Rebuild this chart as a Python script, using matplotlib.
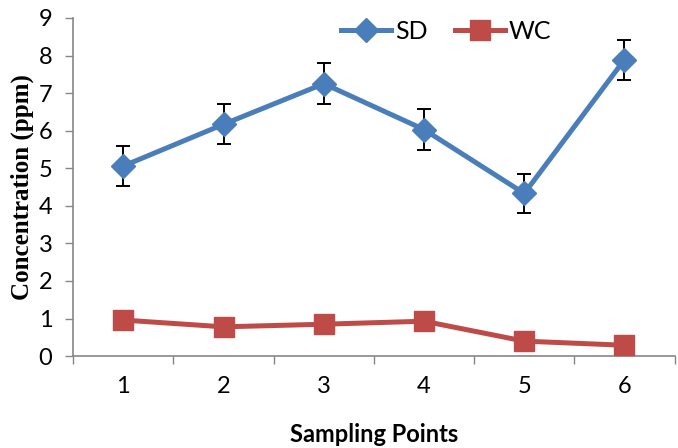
import matplotlib.pyplot as plt

# data
points = [1, 2, 3, 4, 5, 6]
sd = [5.06, 6.17, 7.25, 6.03, 4.33, 7.89]
sd_err = [0.53, 0.53, 0.54, 0.54, 0.52, 0.53]
wc = [0.96, 0.78, 0.85, 0.93, 0.40, 0.29]

blue = '#4A7EBB'
red = '#BE4B48'
grey = '#868686'

fig = plt.figure(figsize=(6.78, 4.48), dpi=100)
ax = fig.add_axes([0.108, 0.205, 0.887, 0.755])

ax.errorbar(points, sd, yerr=sd_err, fmt='none', ecolor='black', elinewidth=1.4, capsize=5, capthick=1.4, zorder=2)
ax.plot(points, sd, color=blue, lw=3.6, marker='D', markersize=12.5, label='SD', zorder=3)
ax.plot(points, wc, color=red, lw=3.6, marker='s', markersize=14.5, label='WC', zorder=3)

ax.set_xlim(0.5, 6.5)
ax.set_ylim(0, 9)

# category axis: ticks between categories, labels at centers
ax.set_xticks([x + 0.5 for x in [0] + points])
ax.set_xticklabels([])
ax.set_xticks(points, minor=True)
ax.set_xticklabels([str(p) for p in points], minor=True, fontsize=17, family='Lato')
ax.tick_params(axis='x', which='major', direction='out', length=6, color=grey, width=1)
ax.tick_params(axis='x', which='minor', length=0, pad=14)
ax.set_yticks(range(10))
ax.set_yticklabels([str(v) for v in range(10)], fontsize=17, family='Lato')
ax.tick_params(axis='y', direction='out', length=6, color=grey, width=1, pad=9)

for s in ['top', 'right']:
    ax.spines[s].set_visible(False)
for s in ['left', 'bottom']:
    ax.spines[s].set_color(grey)
    ax.spines[s].set_linewidth(1.2)

ax.set_ylabel('Concentration (ppm)', fontsize=18, fontweight='bold', family='Liberation Serif', labelpad=3)
ax.set_xlabel('Sampling Points', fontsize=17, fontweight='bold', family='Lato', labelpad=19)

ax.legend(loc='upper center', bbox_to_anchor=(0.62, 1.06), ncol=2, frameon=False,
          prop={'family': 'Lato', 'size': 18}, handlelength=2.0, columnspacing=1.1, handletextpad=0.15)

fig.savefig('out.png', dpi=100)
